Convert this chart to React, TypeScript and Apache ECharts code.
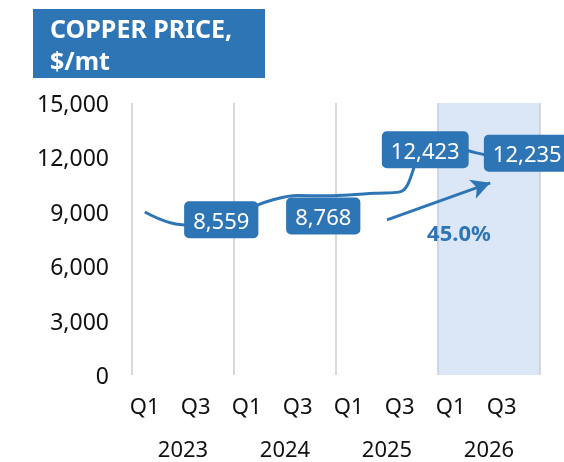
import React, { useEffect, useRef } from "react";
import * as echarts from "echarts";

const QUARTER_LABELS = [
  "Q1", "Q2", "Q3", "Q4",
  "Q1", "Q2", "Q3", "Q4",
  "Q1", "Q2", "Q3", "Q4",
  "Q1", "Q2", "Q3", "Q4",
];
const YEARS = ["2023", "2024", "2025", "2026"];
// quarterly copper price ($/mt), estimated from the line
const PRICE = [8990, 8400, 8250, 8650, 9150, 9650, 9900, 9880, 9930, 10020, 10100, 12400, 12550, 12250, 12000, 12235];
// labelled values placed at Q4 of each year
const LABEL_INDEX = [3, 7, 11, 15];
const LABEL_VALUES = [8559, 8768, 12423, 12235];
// growth arrow annotation (data space: [quarter position, $/mt])
const ARROW_FROM = [10.0, 8550];
const ARROW_TO = [14.05, 10600];
const GROWTH_TEXT = "45.0%";
const FORECAST_RANGE = [12, 16];

const BLUE = "#2E75B6";
const FONT = "'Noto Sans', sans-serif";

export default function App() {
  const ref = useRef<HTMLDivElement>(null);
  useEffect(() => {
    if (!ref.current) return;
    const chart = echarts.init(ref.current, null, { renderer: "svg" });
    const fmt = (v: number) => v.toLocaleString("en-US");
    chart.setOption({
      animation: false,
      grid: { left: 132, right: 24, top: 103, bottom: 87 },
      xAxis: [
        {
          type: "value",
          min: 0,
          max: 16,
          interval: 4,
          axisLine: { show: false },
          axisTick: { show: false },
          axisLabel: { show: false },
          splitLine: { show: true, lineStyle: { color: "#d9d9d9", width: 2 } },
        },
        {
          type: "category",
          data: QUARTER_LABELS,
          position: "bottom",
          boundaryGap: true,
          axisLine: { show: false },
          axisTick: { show: false },
          axisLabel: { interval: 1, margin: 19, fontSize: 22, color: "#111", fontFamily: FONT },
        },
        {
          type: "category",
          data: YEARS,
          position: "bottom",
          offset: 43,
          boundaryGap: true,
          axisLine: { show: false },
          axisTick: { show: false },
          axisLabel: { margin: 19, fontSize: 22, color: "#111", fontFamily: FONT },
        },
      ],
      yAxis: {
        type: "value",
        min: 0,
        max: 15000,
        interval: 3000,
        axisLine: { show: false },
        axisTick: { show: false },
        splitLine: { show: false },
        axisLabel: { margin: 23, fontSize: 23, color: "#111", fontFamily: FONT, formatter: fmt },
      },
      series: [
        {
          type: "line",
          xAxisIndex: 0,
          data: PRICE.map((v, i) => [i + 0.5, v]),
          smooth: 0.4,
          symbol: "none",
          lineStyle: { color: BLUE, width: 3 },
          z: 2,
          markArea: {
            silent: true,
            itemStyle: { color: "rgba(190, 212, 238, 0.55)" },
            data: [[{ xAxis: FORECAST_RANGE[0] }, { xAxis: FORECAST_RANGE[1] }]],
          },
        },
        {
          type: "scatter",
          xAxisIndex: 0,
          data: LABEL_INDEX.map((idx, k) => [idx + 0.5, LABEL_VALUES[k]]),
          symbolSize: 1,
          itemStyle: { color: BLUE, opacity: 1 },
          z: 5,
          label: {
            show: true,
            position: "inside",
            formatter: (p: any) => fmt(p.value[1]),
            color: "#fff",
            fontSize: 22,
            fontFamily: FONT,
            backgroundColor: BLUE,
            borderRadius: 5,
            padding: [8, 9, 7, 9],
          },
          markLine: {
            silent: true,
            symbol: ["none", "arrow"],
            symbolSize: [15, 19],
            lineStyle: { color: BLUE, width: 3, type: "solid", opacity: 1 },
            label: { show: false },
            data: [[{ coord: ARROW_FROM }, { coord: ARROW_TO }]],
          },
        },
      ],
      graphic: [
        {
          type: "rect",
          z: 10,
          shape: { x: 33, y: 9, width: 232, height: 69 },
          style: { fill: BLUE },
        },
        {
          type: "text",
          z: 11,
          x: 50,
          y: 12,
          style: {
            text: "COPPER PRICE,\n$/mt",
            fill: "#fff",
            font: `bold 25px ${FONT}`,
            lineHeight: 32,
          },
        },
        {
          type: "text",
          z: 11,
          x: 459,
          y: 232,
          style: {
            text: GROWTH_TEXT,
            fill: BLUE,
            font: `bold 22px ${FONT}`,
            align: "center",
            verticalAlign: "middle",
          },
        },
      ],
    });
    return () => chart.dispose();
  }, []);
  return <div ref={ref} style={{ position: "fixed", left: 0, top: 0, width: 564, height: 462 }} />;
}
